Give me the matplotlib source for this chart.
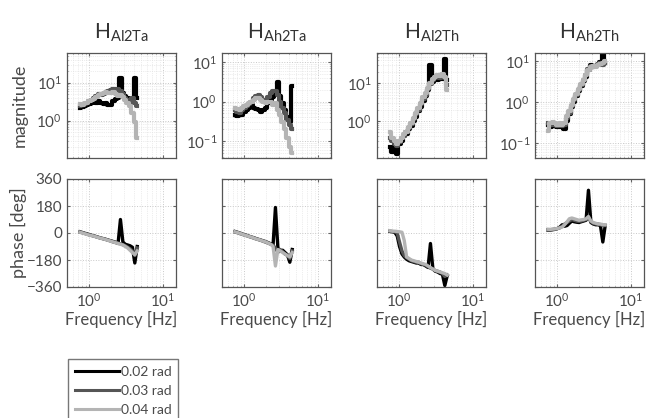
import numpy as np
import matplotlib.pyplot as plt
from matplotlib.lines import Line2D

plt.rcParams['font.family'] = ['Lato', 'DejaVu Sans']
plt.rcParams['mathtext.fontset'] = 'custom'
plt.rcParams['mathtext.rm'] = 'Lato'
plt.rcParams['mathtext.it'] = 'Lato'

freq = [0.75, 0.81, 0.87, 0.94, 1.01, 1.09, 1.17, 1.26, 1.36, 1.46, 1.58, 1.70, 1.83,
        1.97, 2.12, 2.29, 2.46, 2.65, 2.86, 3.08, 3.32, 3.57, 3.85, 4.15, 4.47]

titles = ['Al2Ta', 'Ah2Ta', 'Al2Th', 'Ah2Th']
amplitudes = ['0.02 rad', '0.03 rad', '0.04 rad']
colors = ['#000000', '#555555', '#b4b4b4']

# magnitude, per panel: [0.02, 0.03, 0.04]
mag_al2ta = [
    [2.1, 2.3, 2.4, 2.6, 2.8, 3.0, 3.1, 2.9, 3.2, 3.0, 2.7, 2.9, 2.6, 2.6, 3.2, 3.8, 4.0, 13.0, 5.5, 4.5, 4.0, 3.8, 3.6, 13.0, 4.0],
    [2.5, 2.6, 2.8, 2.9, 3.2, 3.6, 4.0, 4.5, 5.0, 4.8, 5.0, 5.5, 6.0, 6.5, 7.0, 6.5, 6.8, 6.0, 5.0, 4.0, 3.5, 3.0, 4.0, 3.0, 2.5],
    [2.8, 2.6, 2.9, 3.0, 3.3, 3.6, 3.8, 4.2, 4.8, 5.0, 5.3, 5.6, 5.2, 5.5, 5.8, 5.0, 4.6, 4.8, 4.2, 3.6, 3.0, 2.4, 1.6, 0.9, 0.35],
]
mag_ah2ta = [
    [0.45, 0.42, 0.5, 0.45, 0.55, 0.6, 0.7, 0.8, 0.7, 0.65, 0.6, 0.55, 0.6, 0.7, 0.9, 1.1, 1.3, 1.6, 3.2, 1.4, 0.9, 0.6, 0.4, 0.3, 2.5],
    [0.6, 0.55, 0.5, 0.6, 0.7, 0.75, 0.85, 1.0, 1.2, 1.4, 1.5, 1.3, 1.1, 1.0, 1.3, 1.6, 1.8, 1.9, 1.5, 1.0, 0.7, 0.5, 0.35, 0.25, 0.2],
    [0.7, 0.65, 0.6, 0.7, 0.75, 0.8, 0.9, 1.0, 1.1, 1.25, 1.2, 1.1, 1.0, 0.9, 0.95, 1.0, 0.8, 0.9, 0.6, 0.45, 0.3, 0.2, 0.12, 0.07, 0.05],
]
mag_al2th = [
    [0.2, 0.15, 0.25, 0.13, 0.25, 0.3, 0.4, 0.45, 0.6, 0.75, 1.0, 1.3, 1.8, 2.4, 3.4, 4.5, 6.5, 30, 11, 13, 12, 14, 13, 45, 12],
    [0.35, 0.3, 0.25, 0.22, 0.28, 0.35, 0.4, 0.5, 0.65, 0.85, 1.1, 1.5, 2.0, 2.8, 3.8, 5.0, 7.0, 9.5, 12, 14, 15, 14, 16, 14, 9],
    [0.5, 0.35, 0.3, 0.25, 0.3, 0.35, 0.45, 0.5, 0.7, 0.9, 1.2, 1.6, 2.2, 3.0, 4.2, 5.5, 7.5, 10, 13, 15, 17, 16, 18, 15, 6.5],
]
mag_ah2th = [
    [0.28, 0.25, 0.27, 0.26, 0.24, 0.25, 0.24, 0.22, 0.35, 0.5, 0.75, 1.0, 1.4, 1.9, 2.5, 3.2, 4.2, 6.0, 8.0, 7.0, 7.5, 8.0, 9.5, 15, 9],
    [0.3, 0.28, 0.3, 0.28, 0.26, 0.27, 0.26, 0.28, 0.4, 0.55, 0.8, 1.1, 1.5, 2.0, 2.6, 3.4, 4.5, 6.5, 7.5, 7.0, 7.5, 8.5, 9.0, 8.0, 9],
    [0.2, 0.3, 0.32, 0.3, 0.28, 0.3, 0.28, 0.3, 0.45, 0.6, 0.85, 1.2, 1.6, 2.1, 2.8, 3.5, 4.5, 6.0, 7.0, 7.5, 7.0, 8.0, 8.5, 9.0, 10],
]

# phase [deg], per panel: [0.02, 0.03, 0.04]
ph_al2ta = [
    [8, 3, -2, -6, -12, -16, -20, -25, -30, -35, -38, -43, -48, -52, -57, -62, -70, 90, -60, -75, -80, -85, -95, -200, -90],
    [5, 2, -3, -8, -13, -17, -21, -26, -31, -35, -40, -44, -49, -54, -60, -64, -68, -72, -78, -85, -95, -105, -120, -150, -100],
    [5, 0, -5, -10, -15, -18, -22, -27, -32, -36, -40, -45, -50, -55, -60, -65, -70, -75, -80, -90, -100, -115, -130, -145, -120],
]
ph_ah2ta = [
    [10, 5, 0, -6, -12, -16, -22, -27, -32, -38, -43, -48, -53, -58, -65, -72, -80, 170, -100, -120, -115, -130, -145, -195, -110],
    [6, 2, -4, -9, -14, -19, -24, -29, -35, -40, -45, -50, -56, -62, -68, -75, -82, -100, -130, -110, -125, -140, -150, -170, -120],
    [8, 3, -2, -8, -14, -18, -24, -28, -34, -40, -44, -50, -55, -60, -68, -75, -90, -220, -110, -120, -130, -140, -150, -160, -130],
]
ph_al2th = [
    [10, 8, 5, -20, -90, -140, -160, -175, -185, -190, -195, -200, -200, -210, -210, -220, -230, -70, -240, -255, -260, -270, -275, -350, -285],
    [12, 10, 8, 0, -60, -120, -150, -165, -175, -185, -190, -195, -195, -205, -210, -215, -225, -235, -240, -250, -255, -260, -270, -290, -280],
    [15, 12, 12, 10, 8, 5, -50, -160, -170, -180, -185, -190, -195, -200, -205, -210, -220, -230, -240, -250, -255, -260, -265, -270, -280],
]
ph_ah2th = [
    [20, 20, 22, 25, 30, 40, 55, 45, 50, 65, 80, 75, 72, 70, 75, 80, 85, 285, 70, 60, 55, 55, 50, -60, 50],
    [22, 22, 24, 26, 30, 35, 45, 60, 70, 80, 90, 85, 80, 78, 80, 85, 90, 100, 75, 65, 60, 60, 55, 50, 50],
    [25, 24, 26, 28, 30, 35, 40, 55, 75, 95, 100, 95, 90, 85, 88, 90, 95, 110, 80, 70, 65, 60, 60, 55, 55],
]

mags = [mag_al2ta, mag_ah2ta, mag_al2th, mag_ah2th]
phases = [ph_al2ta, ph_ah2ta, ph_al2th, ph_ah2th]
mag_ylims = [(10 ** -0.98, 10 ** 1.78), (10 ** -1.43, 10 ** 1.23),
             (10 ** -0.98, 10 ** 1.8), (10 ** -1.37, 10 ** 1.2)]

W, H = 647, 418
fig = plt.figure(figsize=(W / 100, H / 100), dpi=100)
txt = '#4a4a4a'
lefts = [67, 222, 377, 535]


def style(ax):
    ax.set_xscale('log')
    ax.set_xlim(0.5, 15)
    ax.grid(True, which='major', color='#c8c8c8', linestyle=':', linewidth=0.7)
    ax.grid(True, which='minor', color='#dcdcdc', linestyle=':', linewidth=0.5)
    ax.tick_params(which='both', direction='in', colors='#666666', labelcolor=txt,
                   labelsize=11, length=2, top=True, right=True)
    ax.tick_params(which='minor', length=1)
    for s in ax.spines.values():
        s.set_color('#555555')
        s.set_linewidth(0.9)


for i in range(4):
    axm = fig.add_axes([lefts[i] / W, 1 - 158 / H, 109 / W, 105 / H])
    axp = fig.add_axes([lefts[i] / W, 1 - 287 / H, 109 / W, 108 / H])
    for k in range(3):
        axm.plot(freq, mags[i][k], color=colors[k], linewidth=3, drawstyle='steps-mid')
        axp.plot(freq, phases[i][k], color=colors[k], linewidth=2.4)
    style(axm)
    style(axp)
    axm.set_yscale('log')
    axm.set_ylim(*mag_ylims[i])
    axm.tick_params(axis='x', which='both', labelbottom=False)
    axm.set_title(r'H$_{\mathrm{' + titles[i] + '}}$', color='#333333', fontsize=15, pad=10)
    axp.set_ylim(-360, 360)
    axp.set_yticks([-360, -180, 0, 180, 360])
    axp.set_xticks([1, 10])
    axp.set_xlabel('Frequency [Hz]', color=txt, fontsize=12, labelpad=1)
    if i == 0:
        axm.set_ylabel('magnitude', color=txt, fontsize=13, labelpad=6)
        axp.set_ylabel('phase [deg]', color=txt, fontsize=13, labelpad=0)
    else:
        axp.set_yticklabels([])

handles = [Line2D([], [], color=c, linewidth=2.2) for c in colors]
fig.legend(handles, amplitudes, loc='upper left', bbox_to_anchor=(61 / W, 1 - 352 / H),
           fontsize=10, handlelength=3.2, handletextpad=0.1, labelspacing=0.5,
           frameon=True, fancybox=False, edgecolor='#555555', borderpad=0.5,
           labelcolor=txt)

fig.savefig('out.png', dpi=100)
